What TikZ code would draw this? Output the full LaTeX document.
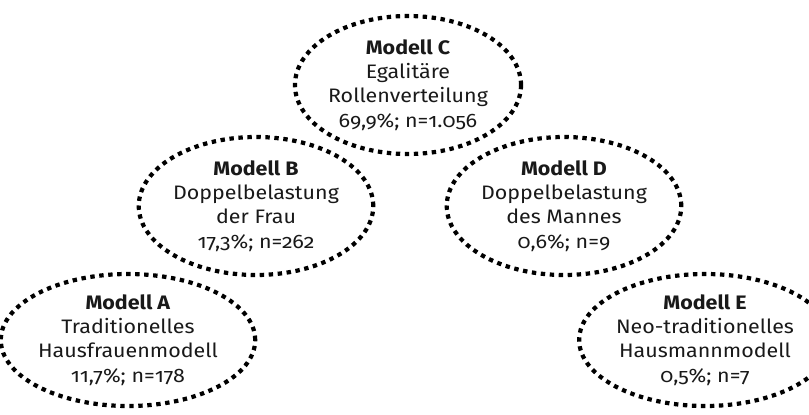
\documentclass[tikz,border=0pt]{standalone}
\usepackage{fontspec}
\setmainfont{Fira Sans}[Numbers=OldStyle, FakeStretch=1.1]
\usetikzlibrary{shapes.geometric}
\begin{document}
\begin{tikzpicture}[x=1pt,y=-1pt,
  modell/.style={ellipse, draw=black, line width=4.2pt, dash pattern=on 4.4pt off 4.6pt,
    minimum width=224pt, minimum height=138pt, inner sep=0pt, align=center,
    font=\fontsize{19.5}{24.3}\selectfont, text=black!90}]
\useasboundingbox (0,0) rectangle (809,415);
\node[modell] (C) at (408,85) {\textbf{Modell C}\\Egalitäre\\Rollenverteilung\\69,9\%; n=1.056};
\node[modell] (B) at (256,206) {\textbf{Modell B}\\Doppelbelastung\\der Frau\\17,3\%; n=262};
\node[modell] (D) at (564,206) {\textbf{Modell D}\\Doppelbelastung\\des Mannes\\0,6\%; n=9};
\node[modell, minimum height=132pt] (A) at (128,340) {\textbf{Modell A}\\Traditionelles\\Hausfrauenmodell\\11,7\%; n=178};
\node[modell, minimum height=132pt] (E) at (705,340) {\textbf{Modell E}\\Neo-traditionelles\\Hausmannmodell\\0,5\%; n=7};
\end{tikzpicture}
\end{document}
